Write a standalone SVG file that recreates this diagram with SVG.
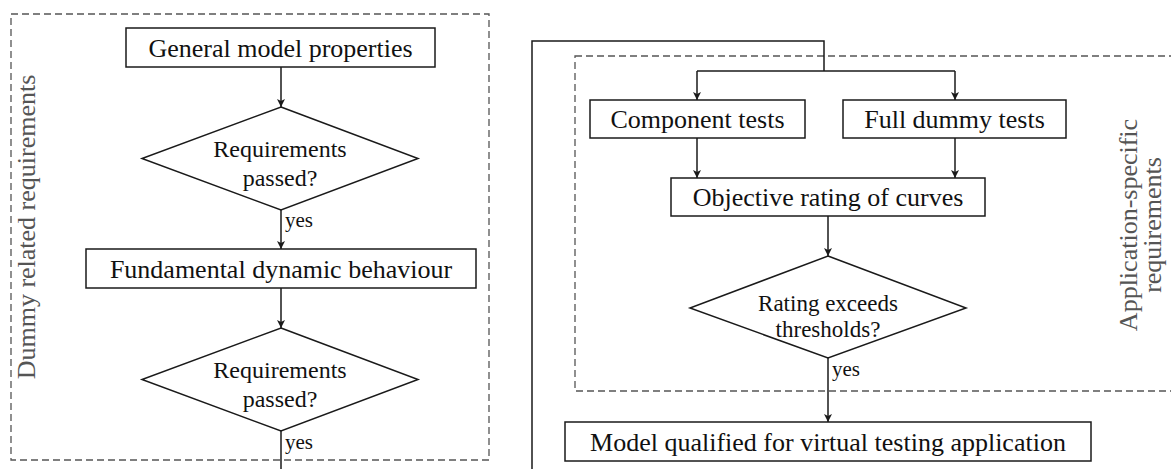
<svg xmlns="http://www.w3.org/2000/svg" width="1171" height="469" viewBox="0 0 1171 469">
<style>
.box{fill:#fff;stroke:#1a1a1a;stroke-width:1.5}
.dec{fill:#fff;stroke:#1a1a1a;stroke-width:1.5;stroke-linejoin:miter}
.grp{fill:none;stroke:#555;stroke-width:1.3;stroke-dasharray:7 4}
.t{font-family:"Liberation Serif","Times New Roman",serif;fill:#111;text-anchor:middle}
.big{font-size:26px}
.mid{font-size:24px}
.mid2{font-size:23px}
.sm{font-size:21px;text-anchor:start}
.lbl{font-family:"Liberation Serif","Times New Roman",serif;font-size:26px;fill:#555;text-anchor:middle}
.ln{fill:none;stroke:#1a1a1a;stroke-width:1.5}
</style>
<defs>
<marker id="ah" viewBox="0 0 10 10" refX="10" refY="5" markerWidth="8" markerHeight="8" markerUnits="userSpaceOnUse" orient="auto">
<path d="M0,0 L10,5 L0,10 L2.5,5 Z" fill="#1a1a1a"/>
</marker>
</defs>
<rect width="1171" height="469" fill="#fff"/>

<g id="group-dummy">
<rect class="grp" x="11" y="14" width="478" height="446"/>
<text class="lbl" transform="translate(35,227) rotate(-90)">Dummy related requirements</text>
</g>
<g id="group-app">
<rect class="grp" x="575" y="56" width="700" height="335"/>
<text class="lbl" transform="translate(1137,225) rotate(-90)">Application-specific</text>
<text class="lbl" transform="translate(1161,225) rotate(-90)">requirements</text>
</g>

<g id="connectors">
<line class="ln" x1="281" y1="67" x2="281" y2="107" marker-end="url(#ah)"/>
<line class="ln" x1="281" y1="210" x2="281" y2="249" marker-end="url(#ah)"/>
<line class="ln" x1="281" y1="288" x2="281" y2="328" marker-end="url(#ah)"/>
<line class="ln" x1="281" y1="431" x2="281" y2="470"/>
<polyline class="ln" points="532,470 532,41 824,41 824,71"/>
<line class="ln" x1="697" y1="71" x2="955" y2="71"/>
<line class="ln" x1="697" y1="71" x2="697" y2="100" marker-end="url(#ah)"/>
<line class="ln" x1="955" y1="71" x2="955" y2="100" marker-end="url(#ah)"/>
<line class="ln" x1="697" y1="138" x2="697" y2="178" marker-end="url(#ah)"/>
<line class="ln" x1="955" y1="138" x2="955" y2="178" marker-end="url(#ah)"/>
<line class="ln" x1="828" y1="216" x2="828" y2="256" marker-end="url(#ah)"/>
<line class="ln" x1="828" y1="358" x2="828" y2="422" marker-end="url(#ah)"/>
<text class="t sm" x="285" y="227">yes</text>
<text class="t sm" x="285" y="449">yes</text>
<text class="t sm" x="832" y="376">yes</text>
</g>

<g id="n-general">
<rect class="box" x="126" y="28" width="309" height="39"/>
<text class="t big" x="280.5" y="56.5">General model properties</text>
</g>
<g id="n-req1">
<polygon class="dec" points="281,107 418,158.5 281,210 142,158.5"/>
<text class="t mid" x="280" y="157">Requirements</text>
<text class="t mid" x="280" y="186">passed?</text>
</g>
<g id="n-fundamental">
<rect class="box" x="86" y="249" width="390" height="39"/>
<text class="t big" x="281" y="277.5">Fundamental dynamic behaviour</text>
</g>
<g id="n-req2">
<polygon class="dec" points="281,328 418,379.5 281,431 142,379.5"/>
<text class="t mid" x="280" y="378">Requirements</text>
<text class="t mid" x="280" y="407">passed?</text>
</g>
<g id="n-component">
<rect class="box" x="590" y="100" width="215" height="38"/>
<text class="t big" x="697.5" y="128">Component tests</text>
</g>
<g id="n-fulldummy">
<rect class="box" x="843" y="100" width="223" height="38"/>
<text class="t big" x="954.5" y="128">Full dummy tests</text>
</g>
<g id="n-objective">
<rect class="box" x="671" y="178" width="314" height="38"/>
<text class="t big" x="828" y="206">Objective rating of curves</text>
</g>
<g id="n-rating">
<polygon class="dec" points="828,256 966,308 828,358 690,308"/>
<text class="t mid2" x="828" y="310.5">Rating exceeds</text>
<text class="t mid2" x="828" y="337">thresholds?</text>
</g>
<g id="n-model">
<rect class="box" x="565" y="422" width="526" height="39"/>
<text class="t big" x="828" y="450.5">Model qualified for virtual testing application</text>
</g>
</svg>
